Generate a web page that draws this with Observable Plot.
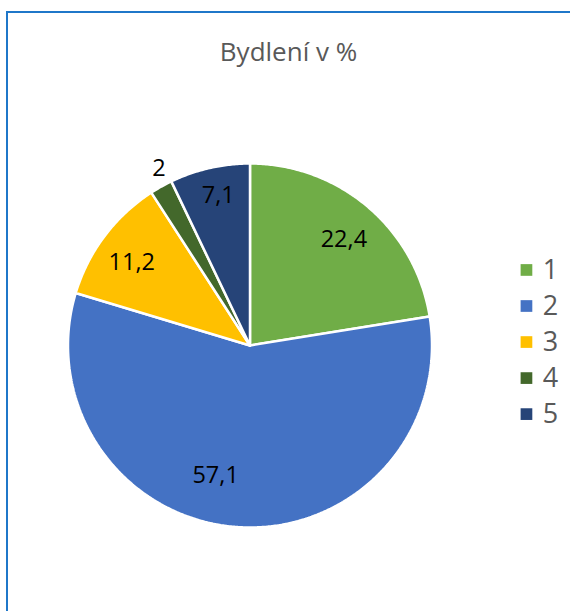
<!DOCTYPE html>
<html>
<head>
<meta charset="utf-8">
<script src="https://cdn.jsdelivr.net/npm/d3@7"></script>
<script src="https://cdn.jsdelivr.net/npm/@observablehq/plot@0.6"></script>
<style>
  html, body { margin: 0; padding: 0; background: #fff; }
  svg { display: block; }
</style>
</head>
<body>
<div id="chart"></div>
<script>
// ---- data ----
const title = "Bydlení v %";
const categories = ["1", "2", "3", "4", "5"];
const values = [22.4, 57.1, 11.2, 2, 7.1];
const valueLabels = ["22,4", "57,1", "11,2", "2", "7,1"];
const colors = ["#70AD47", "#4472C4", "#FFC000", "#43682B", "#264478"];

// ---- layout (label placement relative to slice mid-angle) ----
const labelRadius = [0.78, 0.74, 0.795, 1.093, 0.845];
const labelAngleShift = [1, 11, -1.8, 2, 0.9]; // degrees

const pie = d3.pie().sort(null).value(d => d)(values);
const deg = Math.PI / 180;

// slice polygons in unit-circle coordinates (angle clockwise from top)
const slicePts = [];
pie.forEach((p, i) => {
  slicePts.push({k: categories[i], x: 0, y: 0});
  const n = Math.max(2, Math.ceil((p.endAngle - p.startAngle) / (0.5 * deg)));
  for (let j = 0; j <= n; j++) {
    const a = p.startAngle + (p.endAngle - p.startAngle) * j / n;
    slicePts.push({k: categories[i], x: Math.sin(a), y: Math.cos(a)});
  }
  slicePts.push({k: categories[i], x: 0, y: 0});
});

const labels = pie.map((p, i) => {
  const a = (p.startAngle + p.endAngle) / 2 + labelAngleShift[i] * deg;
  return {text: valueLabels[i], x: labelRadius[i] * Math.sin(a), y: labelRadius[i] * Math.cos(a)};
});

const legend = categories.map((c, i) => ({k: c, x: 1.519, tx: 1.608, y: 0.415 - i * 0.198}));

const R = 182, cx = 249.5, cy = 345;

const chart = Plot.plot({
  width: 570,
  height: 611,
  margin: 0,
  style: {fontFamily: "'Open Sans', sans-serif", background: "#fff"},
  x: {domain: [-1, 1], range: [cx - R, cx + R], axis: null},
  y: {domain: [-1, 1], range: [cy + R, cy - R], axis: null},
  color: {domain: categories, range: colors},
  marks: [
    Plot.frame({stroke: "#1F77C9", strokeWidth: 2, insetLeft: 6.5, insetTop: 11.5, insetRight: -10, insetBottom: -10}),
    Plot.line(slicePts, {x: "x", y: "y", z: "k", fill: "k", stroke: "white", strokeWidth: 2.5, strokeLinejoin: "miter", curve: "linear"}),
    Plot.text(labels, {x: "x", y: "y", text: "text", fontSize: 23.5, fill: "black", lineAnchor: "middle"}),
    Plot.text([title], {frameAnchor: "top", dx: 3, dy: 52, text: d => d, fontSize: 26, fill: "#595959", lineAnchor: "middle"}),
    Plot.dot(legend, {x: "x", y: "y", symbol: "square", r: 6.6, fill: "k", stroke: "none"}),
    Plot.text(legend, {x: "tx", y: "y", text: "k", fontSize: 27, fill: "#595959", textAnchor: "start", lineAnchor: "middle"})
  ]
});
document.getElementById("chart").appendChild(chart);
</script>
</body>
</html>
